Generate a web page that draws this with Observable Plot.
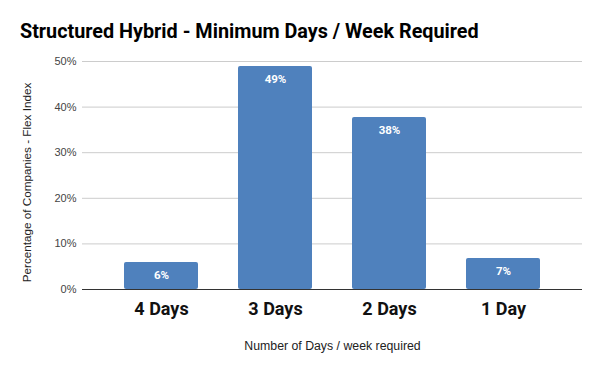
<!DOCTYPE html>
<html>
<head>
<meta charset="utf-8">
<script src="https://cdn.jsdelivr.net/npm/d3@7"></script>
<script src="https://cdn.jsdelivr.net/npm/@observablehq/plot@0.6"></script>
<style>
  html, body { margin: 0; padding: 0; background: #fff; }
  #chart svg { display: block; }
</style>
</head>
<body>
<div id="chart"></div>
<script>
const categories = ["4 Days", "3 Days", "2 Days", "1 Day"];
const values = [5.9, 48.9, 37.7, 6.8];
const yTicks = [0, 10, 20, 30, 40, 50];
const title = "Structured Hybrid - Minimum Days / Week Required";
const xLabel = "Number of Days / week required";
const yLabel = "Percentage of Companies - Flex Index";

const data = categories.map((c, i) => ({category: c, value: values[i]}));

const chart = Plot.plot({
  width: 600,
  height: 371,
  marginTop: 61,
  marginBottom: 82,
  marginLeft: 82,
  marginRight: 18,
  style: {background: "#fff"},
  x: {domain: categories, padding: 0.35, label: null},
  y: {domain: [0, 50], label: null},
  marks: [
    Plot.gridY(yTicks, {stroke: "#cccccc", strokeOpacity: 1}),
    Plot.barY(data, {x: "category", y: "value", fill: "#4f81bd", rx: 2}),
    Plot.ruleY([0], {stroke: "#333333", strokeWidth: 1.2}),
    Plot.axisY(yTicks, {tickSize: 0, tickPadding: 6, tickFormat: d => d + "%", fontSize: 11, fontFamily: "Liberation Sans, Arial, sans-serif", fill: "#444", label: null}),
    Plot.axisX({tickSize: 0, tickPadding: 13, fontSize: 18, fontWeight: "bold", fontFamily: "Roboto, sans-serif", fill: "#111", label: null}),
    Plot.text(data, {x: "category", y: "value", text: d => Math.round(d.value) + "%", dy: 13, fill: "#fff", fontSize: 11.5, fontWeight: "bold", fontFamily: "Roboto, sans-serif"}),
    Plot.text([xLabel], {frameAnchor: "bottom", dy: 60, fontSize: 12.3, fontFamily: "Liberation Sans, Arial, sans-serif", fill: "#222"}),
    Plot.text([yLabel], {frameAnchor: "left", textAnchor: "middle", dx: -55, dy: 7, rotate: -90, fontSize: 11.7, fontFamily: "Liberation Sans, Arial, sans-serif", fill: "#222"})
  ]
});

d3.select(chart).append("text")
  .attr("x", 20)
  .attr("y", 38)
  .attr("text-anchor", "start")
  .attr("font-family", "Roboto, sans-serif")
  .attr("font-size", 19.8)
  .attr("font-weight", "bold")
  .attr("fill", "#000")
  .text(title);

document.getElementById("chart").appendChild(chart);
</script>
</body>
</html>
